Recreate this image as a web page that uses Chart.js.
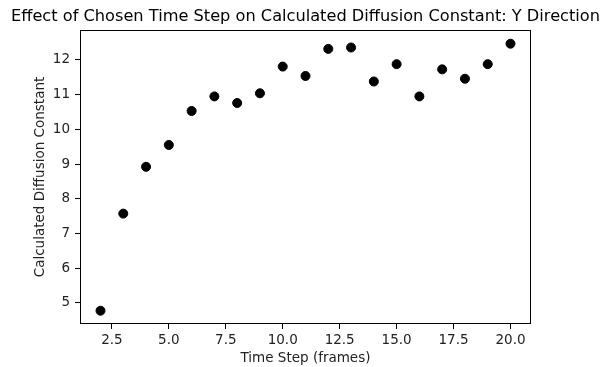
<!DOCTYPE html>
<html>
<head>
<meta charset="utf-8">
<script src="https://cdn.jsdelivr.net/npm/chart.js@4"></script>
<style>
  html, body { margin: 0; padding: 0; background: #fff; }
  #wrap { width: 603px; height: 367px; }
</style>
</head>
<body>
<div id="wrap"><canvas id="c" width="603" height="367"></canvas></div>
<script>
// time step (frames) vs calculated diffusion constant, Y direction
var timeSteps = [2, 3, 4, 5, 6, 7, 8, 9, 10, 11, 12, 13, 14, 15, 16, 17, 18, 19, 20];
var diffConst = [4.77, 7.57, 8.92, 9.55, 10.53, 10.95, 10.76, 11.04, 11.81, 11.54, 12.32, 12.36, 11.38, 11.88, 10.95, 11.73, 11.46, 11.88, 12.47];
var xTicks = [2.5, 5.0, 7.5, 10.0, 12.5, 15.0, 17.5, 20.0];
var yTicks = [5, 6, 7, 8, 9, 10, 11, 12];

var chartTitle = 'Effect of Chosen Time Step on Calculated Diffusion Constant: Y Direction';
var xTitle = 'Time Step (frames)';
var yTitle = 'Calculated Diffusion Constant';

var FONT = 'DejaVu Sans';
var points = timeSteps.map(function (t, i) { return { x: t, y: diffConst[i] }; });

// frame around the plot + title centred over the axes (matplotlib style)
var framePlugin = {
    id: 'frame',
    afterDraw: function (chart) {
        var a = chart.chartArea, ctx = chart.ctx;
        ctx.save();
        ctx.strokeStyle = '#000';
        ctx.lineWidth = 1;
        ctx.strokeRect(Math.round(a.left) + 0.5, Math.round(a.top) + 0.5,
            Math.round(a.right - a.left) - 1, Math.round(a.bottom - a.top) - 1);
        ctx.fillStyle = '#000';
        ctx.font = '16.2px "' + FONT + '"';
        ctx.textAlign = 'center';
        ctx.textBaseline = 'alphabetic';
        ctx.fillText(chartTitle, (a.left + a.right) / 2, 21);
        ctx.restore();
    }
};

new Chart(document.getElementById('c'), {
    type: 'scatter',
    data: {
        datasets: [{
            data: points,
            backgroundColor: '#000',
            borderColor: '#000',
            pointRadius: 4.5,
            pointHoverRadius: 4.5
        }]
    },
    options: {
        responsive: false,
        animation: false,
        events: [],
        layout: { padding: { top: 30, right: 72, left: 0, bottom: 0 } },
        plugins: { legend: { display: false }, tooltip: { enabled: false }, title: { display: false } },
        scales: {
            x: {
                type: 'linear',
                min: 1.1, max: 20.9,
                afterFit: function (s) { s.height = 43; },
                afterBuildTicks: function (s) { s.ticks = xTicks.map(function (v) { return { value: v }; }); },
                border: { display: false },
                grid: { drawOnChartArea: false, drawTicks: true, tickLength: 5, color: '#000' },
                ticks: {
                    color: '#222', padding: 3, maxRotation: 0, autoSkip: false,
                    font: { family: FONT, size: 13.5 },
                    callback: function (v) { return Number(v).toFixed(1); }
                },
                title: {
                    display: true, text: xTitle, color: '#222',
                    font: { family: FONT, size: 13.5 }, padding: { top: 0, bottom: 0 }
                }
            },
            y: {
                type: 'linear',
                min: 4.387, max: 12.865,
                afterFit: function (s) { s.width = 80; },
                afterBuildTicks: function (s) { s.ticks = yTicks.map(function (v) { return { value: v }; }); },
                border: { display: false },
                grid: { drawOnChartArea: false, drawTicks: true, tickLength: 5, color: '#000' },
                ticks: {
                    color: '#222', padding: 5, autoSkip: false,
                    font: { family: FONT, size: 13.5 },
                    callback: function (v) { return String(v); }
                },
                title: {
                    display: true, text: yTitle, color: '#222',
                    font: { family: FONT, size: 13.5 }, padding: { top: 32, bottom: 0 }
                }
            }
        }
    },
    plugins: [framePlugin]
});
</script>
</body>
</html>
